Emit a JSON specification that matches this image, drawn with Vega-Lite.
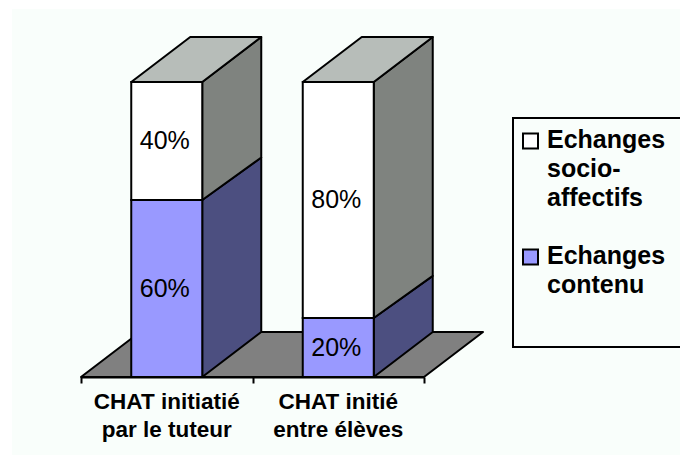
{
"$schema":"https://vega.github.io/schema/vega-lite/v6.json",
"width":599,"height":354,
"autosize":{"type":"none"},
"padding":{"left":81,"top":23,"right":0,"bottom":78},
"background":"#FFFFFF",
"config":{"view":{"stroke":null}},
"resolve":{"scale":{"x":"independent","fill":"independent"},"axis":{"x":"independent"},"legend":{"fill":"independent"}},
"layer":[
{
"data":{"values":[{"x0":-0.402,"x1":3.4927,"y0":124.75,"y1":-26.5}]},
"mark":{"type":"rect","color":"#F9FEFB","clip":false},
"encoding":{
"x":{"field":"x0","type":"quantitative","scale":{"domain":[0,3.4927],"nice":false,"zero":false},"axis":null},
"x2":{"field":"x1"},
"y":{"field":"y0","type":"quantitative","scale":{"domain":[0,120],"nice":false},"axis":null},
"y2":{"field":"y1"}
}
},
{
"data":{"values":[
{"face":"floor","kind":"Sol","x":0,"top":0,"base":0},
{"face":"floor","kind":"Sol","x":0.344,"top":15.25,"base":0},
{"face":"floor","kind":"Sol","x":2,"top":15.25,"base":0},
{"face":"floor","kind":"Sol","x":2.344,"top":15.25,"base":15.25},
{"face":"b1blue","kind":"Côté contenu","x":0.707,"top":60,"base":0},
{"face":"b1blue","kind":"Côté contenu","x":1.051,"top":74.4,"base":15.25},
{"face":"b1gray","kind":"Côté socio","x":0.707,"top":100,"base":60},
{"face":"b1gray","kind":"Côté socio","x":1.051,"top":115.25,"base":74.4},
{"face":"b1top","kind":"Dessus","x":0.293,"top":100,"base":100},
{"face":"b1top","kind":"Dessus","x":0.637,"top":115.25,"base":100},
{"face":"b1top","kind":"Dessus","x":0.707,"top":115.25,"base":100},
{"face":"b1top","kind":"Dessus","x":1.051,"top":115.25,"base":115.25},
{"face":"b2blue","kind":"Côté contenu","x":1.707,"top":20,"base":0},
{"face":"b2blue","kind":"Côté contenu","x":2.051,"top":34.3,"base":15.25},
{"face":"b2gray","kind":"Côté socio","x":1.707,"top":100,"base":20},
{"face":"b2gray","kind":"Côté socio","x":2.051,"top":115.25,"base":34.3},
{"face":"b2top","kind":"Dessus","x":1.293,"top":100,"base":100},
{"face":"b2top","kind":"Dessus","x":1.637,"top":115.25,"base":100},
{"face":"b2top","kind":"Dessus","x":1.707,"top":115.25,"base":100},
{"face":"b2top","kind":"Dessus","x":2.051,"top":115.25,"base":115.25}
]},
"mark":{"type":"area","orient":"vertical","stroke":"#000000","strokeWidth":2,"strokeJoin":"round","opacity":1,"clip":false},
"encoding":{
"x":{"field":"x","type":"quantitative","scale":{"domain":[0,3.4927],"nice":false,"zero":false},
"axis":{"orient":"bottom","zindex":1,"title":null,"values":[0,1,2],"labels":false,"domain":false,"grid":false,"ticks":true,"tickColor":"#000000","tickWidth":2,"tickSize":6}},
"y":{"field":"top","type":"quantitative","stack":false,"scale":{"domain":[0,120],"nice":false},"axis":null},
"y2":{"field":"base"},
"detail":{"field":"face"},
"fill":{"field":"kind","type":"nominal","legend":null,"scale":{"domain":["Sol","Côté contenu","Côté socio","Dessus"],"range":["#808080","#4C4F80","#7F837F","#B7BDB9"]}}
}
},
{
"data":{"name":"bars","values":[
{"groupe":"CHAT initiatié|par le tuteur","type":"Echanges contenu","rang":1,"pct":60,"texte":"60%"},
{"groupe":"CHAT initiatié|par le tuteur","type":"Echanges socio-affectifs","rang":2,"pct":40,"texte":"40%"},
{"groupe":"CHAT initié|entre élèves","type":"Echanges contenu","rang":1,"pct":20,"texte":"20%"},
{"groupe":"CHAT initié|entre élèves","type":"Echanges socio-affectifs","rang":2,"pct":80,"texte":"80%"}
]},
"mark":{"type":"bar","stroke":"#000000","strokeWidth":2,"opacity":1},
"encoding":{
"x":{"field":"groupe","type":"nominal","sort":null,
"scale":{"range":[0,343],"paddingInner":0.586,"paddingOuter":0.293},
"axis":{"orient":"bottom","zindex":1,"title":null,"labelAngle":0,"ticks":false,"domainColor":"#000000","domainWidth":2,"labelFont":"Liberation Sans","labelFontWeight":"bold","labelFontSize":22.5,"labelColor":"#000000","labelLineHeight":28.5,"labelPadding":13,"labelLimit":0,"grid":false,
"labelExpr":"split(datum.label,'|')"}},
"y":{"field":"pct","type":"quantitative","stack":"zero","scale":{"domain":[0,120],"nice":false},"axis":null},
"order":{"field":"rang"},
"fill":{"field":"type","type":"nominal","scale":{"domain":["Echanges socio-affectifs","Echanges contenu"],"range":["#FFFFFF","#9999FF"]},
"legend":{"orient":"none","legendX":432,"legendY":95,"direction":"vertical","title":"\u00a0","titleOrient":"bottom","titleFontSize":34,"titleLimit":0,"titlePadding":0,"strokeColor":"#000000","padding":15,"symbolType":"square","symbolSize":225,"symbolStrokeColor":"#000000","symbolStrokeWidth":2,"symbolOpacity":1,"symbolOffset":-10,"labelFont":"Liberation Sans","labelFontWeight":"bold","labelFontSize":25,"labelColor":"#000000","labelLimit":0,"labelOffset":4,"rowPadding":32,
"encode":{"legend":{"update":{"strokeWidth":{"value":2}}},"labels":{"update":{"lineHeight":{"value":29},"dy":{"value":-6}}},"symbols":{"update":{"y":{"value":8}}}},
"labelExpr":"datum.label==='Echanges socio-affectifs'?['Echanges','socio-','affectifs']:['Echanges','contenu']"}}
}
},
{
"data":{"name":"bars"},
"mark":{"type":"text","font":"Liberation Sans","fontSize":25,"color":"#000000","align":"center","baseline":"middle","dx":-2},
"encoding":{
"x":{"field":"groupe","type":"nominal","sort":null,"scale":{"range":[0,343],"paddingInner":0.586,"paddingOuter":0.293},"axis":null},
"y":{"field":"pct","type":"quantitative","stack":"zero","bandPosition":0.5,"scale":{"domain":[0,120],"nice":false},"axis":null},
"order":{"field":"rang"},
"text":{"field":"texte","type":"nominal"},
"detail":{"field":"type"}
}
}
]
}
